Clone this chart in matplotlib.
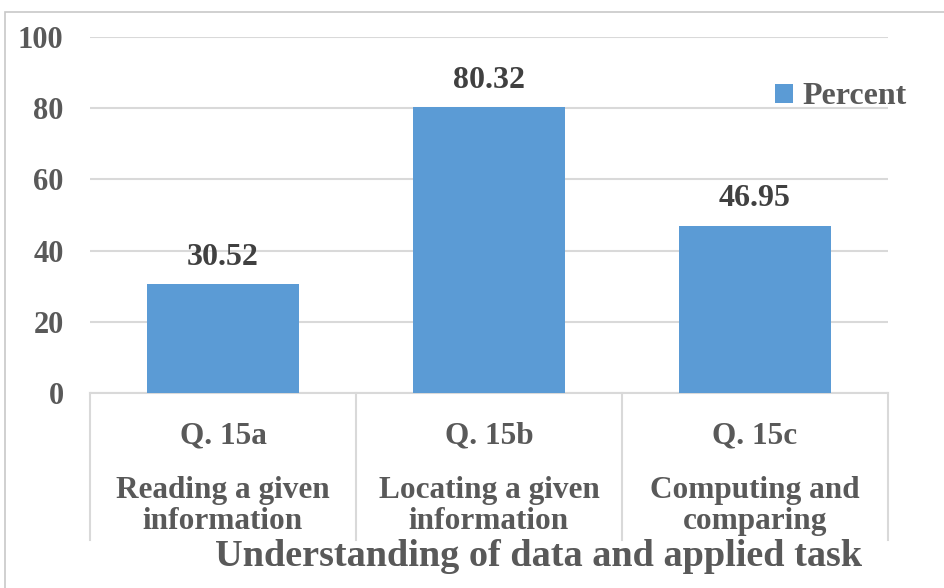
import matplotlib.pyplot as plt
from matplotlib.patches import Rectangle
from matplotlib.lines import Line2D

# question groups and the share of correct answers (%)
questions = ["Q. 15a", "Q. 15b", "Q. 15c"]
tasks = ["Reading a given\ninformation", "Locating a given\ninformation", "Computing and\ncomparing"]
percent = [30.52, 80.32, 46.95]
yticks = [0, 20, 40, 60, 80, 100]

plt.rcParams['font.family'] = ['Liberation Serif', 'DejaVu Serif']
plt.rcParams['font.weight'] = 'bold'

W, H = 944, 588
fig = plt.figure(figsize=(W / 100, H / 100), dpi=100)

# thin frame around the whole chart
fig.patches.append(Rectangle((5 / W, -0.1), 1.2, 1 - 12 / H + 0.1, transform=fig.transFigure,
                             fill=False, edgecolor='#c8c8c8', linewidth=1.2))

ax = fig.add_axes([90 / W, 1 - 393 / H, (888 - 90) / W, (393 - 37) / H])
xs = range(len(percent))
bars = ax.bar(xs, percent, width=0.57, color='#5b9bd5', zorder=3, label='Percent')

for x, v in zip(xs, percent):
    ax.annotate(f"{v:.2f}", (x, v), xytext=(0, 9), textcoords='offset points',
                ha='center', va='bottom', fontsize=23, fontweight='bold', color='#404040')

ax.set_xlim(-0.5, 2.5)
ax.set_ylim(0, 100)
ax.set_yticks(yticks)
ax.set_yticklabels([str(t) for t in yticks], fontsize=22, fontweight='bold', color='#595959')
ax.tick_params(axis='y', length=0, pad=19)
ax.set_xticks([])
ax.grid(axis='y', color='#d9d9d9', linewidth=1.5, zorder=0)
for s in ['left', 'right', 'top']:
    ax.spines[s].set_visible(False)
ax.spines['bottom'].set_color('#d9d9d9')
ax.spines['bottom'].set_linewidth(1.5)

# category boxes below the axis
trans = ax.get_xaxis_transform()
bottom_y = -(540 - 393) / (393 - 37)
for b in [-0.5, 0.5, 1.5, 2.5]:
    ax.add_line(Line2D([b, b], [0, bottom_y], transform=trans, color='#d9d9d9',
                       linewidth=1.5, clip_on=False))
for x, q, t in zip(xs, questions, tasks):
    ax.text(x, -(436 - 393) / 356, q, transform=trans, ha='center', va='center',
            fontsize=22.5, fontweight='bold', color='#595959')
    ax.text(x, -(506 - 393) / 356, t, transform=trans, ha='center', va='center',
            fontsize=22.5, fontweight='bold', color='#595959', linespacing=1.12)

fig.text(539 / W, 1 - 557 / H, "Understanding of data and applied task", ha='center', va='center',
         fontsize=27.5, fontweight='bold', color='#595959')

ax.legend(loc='center left', bbox_to_anchor=(775 / W, 1 - 97 / H), bbox_transform=fig.transFigure,
          frameon=False, handlelength=0.55, handleheight=0.55, handletextpad=0.3, borderpad=0,
          borderaxespad=0, prop={'size': 23, 'weight': 'bold'}, labelcolor='#595959')

fig.savefig('out.png', dpi=100)
